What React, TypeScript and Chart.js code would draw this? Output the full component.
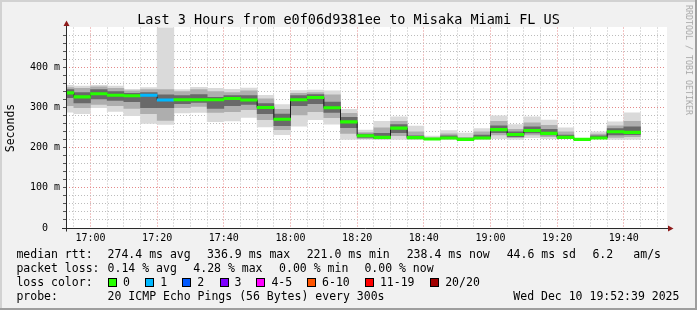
import React, { useEffect, useRef } from 'react';
import { Chart, registerables } from 'chart.js';

Chart.register(...registerables);

// ---------------- data ----------------
const TITLE = 'Last 3 Hours from e0f06d9381ee to Misaka Miami FL US';
const END_TIME = '19:52:39';
const SPAN_MIN = 180;
const STEP_MIN = 5;
const Y_MAX = 500;

// 5-minute bins (start time of each bin)
const binStarts = [
  '16:50', '16:55', '17:00', '17:05', '17:10', '17:15', '17:20', '17:25', '17:30', '17:35',
  '17:40', '17:45', '17:50', '17:55', '18:00', '18:05', '18:10', '18:15', '18:20', '18:25',
  '18:30', '18:35', '18:40', '18:45', '18:50', '18:55', '19:00', '19:05', '19:10', '19:15',
  '19:20', '19:25', '19:30', '19:35', '19:40',
];

// median rtt (ms)
const median = [
  336.9, 327, 334.6, 331, 329.6, 331, 319, 320, 320, 320,
  323, 319, 300.5, 271, 320, 325.5, 300, 264.6, 230, 226,
  249, 225.4, 222, 224.6, 221, 224.6, 245.4, 233, 243, 236,
  226, 221, 224.6, 240, 238.4,
];

// lost pings out of 20 per bin
const lossCount = [
  0, 0, 0, 0, 0, 1, 1, 0, 0, 0,
  0, 0, 0, 0, 0, 0, 0, 0, 0, 0,
  0, 0, 0, 0, 0, 0, 0, 0, 0, 0,
  0, 0, 0, 0, 0,
];

// smoke: outer (all pings), middle and inner bands (ms)
const outerLo = [289, 285, 300, 291, 280, 261, 258, 287, 288, 265, 267, 276, 252, 233, 254, 270, 259, 221, 221, 221, 221, 221, 220, 221, 219, 221, 223, 221, 225, 223, 223, 220, 223, 221, 221];
const outerHi = [356, 354, 356, 354, 346, 350, 520, 345, 351, 348, 346, 349, 331, 308, 343, 344, 342, 296, 244, 266, 277, 254, 229, 243, 237, 248, 280, 258, 277, 269, 250, 222, 240, 265, 287];
const midLo = [305, 300, 308, 305, 298, 285, 268, 300, 303, 288, 290, 295, 270, 245, 282, 290, 275, 236, 223, 222, 230, 222, 221, 222, 220, 222, 232, 225, 232, 228, 224, 220, 224, 226, 228];
const midHi = [350, 348, 352, 348, 342, 345, 345, 340, 345, 340, 338, 342, 322, 296, 336, 338, 332, 286, 238, 250, 266, 240, 225, 235, 226, 240, 266, 246, 262, 256, 240, 222, 234, 255, 266];
const darkLo = [325, 312, 322, 318, 315, 300, 300, 310, 313, 298, 305, 308, 285, 255, 305, 310, 288, 250, 226, 223, 238, 223, 221, 223, 220, 223, 238, 228, 237, 232, 225, 220, 225, 232, 233];
const darkHi = [345, 338, 345, 340, 336, 338, 332, 330, 333, 326, 330, 330, 310, 284, 330, 333, 314, 276, 234, 236, 258, 230, 223, 230, 222, 232, 255, 240, 252, 246, 232, 222, 230, 248, 252];

const yTickValues = [0, 100, 200, 300, 400];
const xTickLabels = ['17:00', '17:20', '17:40', '18:00', '18:20', '18:40', '19:00', '19:20', '19:40'];

const lossLabels = ['0', '1', '2', '3', '4-5', '6-10', '11-19', '20/20'];
const lossColors = ['#26ff00', '#00b8ff', '#0059ff', '#7e00ff', '#ff00ff', '#ff5500', '#ff0000', '#a10000'];

const rttStats = ['274.4 ms avg', '336.9 ms max', '221.0 ms min', '238.4 ms now', '44.6 ms sd', '6.2', 'am/s'];
const lossStats = ['0.14 % avg', '4.28 % max', '0.00 % min', '0.00 % now'];
const PROBE = '20 ICMP Echo Pings (56 Bytes) every 300s';
const DATE = 'Wed Dec 10 19:52:39 2025';

// ---------------- helpers ----------------
const MONO = "'DejaVu Sans Mono', monospace";
const toMin = (s: string) => {
  const p = s.split(':').map(Number);
  return p[0] * 60 + p[1] + (p[2] || 0) / 60;
};
const lossIndex = (c: number) =>
  c <= 3 ? c : c <= 5 ? 4 : c <= 10 ? 5 : c <= 19 ? 6 : 7;

const MEDIAN_HALF = 3; // thickness of the coloured median line (ms)
const GRID_MINOR = '#bcbcbc';
const GRID_MAJOR = '#e48888';

function Txt(props: { x: number; y: number; size?: number; children: React.ReactNode; color?: string }) {
  const size = props.size ?? 11.5;
  return (
    <span
      style={{
        position: 'absolute',
        left: props.x,
        top: props.y - 7,
        fontSize: size,
        lineHeight: '14px',
        whiteSpace: 'pre',
        color: props.color ?? '#000',
        fontFamily: MONO,
      }}
    >
      {props.children}
    </span>
  );
}

export default function App() {
  const ref = useRef<HTMLCanvasElement>(null);

  useEffect(() => {
    const canvas = ref.current;
    if (!canvas) return;
    const endMin = toMin(END_TIME);
    const xMin = endMin - SPAN_MIN;
    const centers = binStarts.map((s) => toMin(s) + STEP_MIN / 2);
    const xGrid: number[] = [];
    for (let v = Math.ceil(xMin / STEP_MIN) * STEP_MIN; v <= endMin; v += STEP_MIN) xGrid.push(v);
    const yGrid: number[] = [];
    for (let v = 0; v <= Y_MAX; v += 20) yGrid.push(v);
    const majorX = xTickLabels.map(toMin);

    const band = (lo: number[], hi: number[], color: string, order: number) => ({
      type: 'bar' as const,
      data: centers.map((x, i) => ({ x, y: [lo[i], hi[i]] })),
      backgroundColor: color,
      grouped: false,
      order,
      barPercentage: 1,
      categoryPercentage: 1,
      borderWidth: 0,
      clip: 0,
    });

    const bgPlugin = {
      id: 'rrdCanvas',
      beforeDraw(chart: any) {
        const { ctx, chartArea: a } = chart;
        ctx.save();
        ctx.fillStyle = '#ffffff';
        ctx.fillRect(a.left, Math.floor(a.top), a.right - a.left + 1, a.bottom - Math.floor(a.top));
        ctx.restore();
      },
    };

    const axisPlugin = {
      id: 'rrdAxes',
      afterDatasetsDraw(chart: any) {
        const { ctx, chartArea: a, scales } = chart;
        const x0 = Math.round(a.left) + 0.5;
        const y0 = Math.round(scales.y.getPixelForValue(0) - 0.5) + 0.5;
        ctx.save();
        ctx.strokeStyle = '#2a2a2a';
        ctx.lineWidth = 1;
        ctx.beginPath();
        ctx.moveTo(x0, y0 + 3);
        ctx.lineTo(x0, a.top - 3);
        ctx.moveTo(a.left - 4, y0);
        ctx.lineTo(a.right + 3, y0);
        ctx.stroke();
        ctx.fillStyle = '#8e1b1b';
        ctx.beginPath();
        ctx.moveTo(x0, a.top - 7);
        ctx.lineTo(x0 - 3, a.top - 1.5);
        ctx.lineTo(x0 + 3, a.top - 1.5);
        ctx.closePath();
        ctx.fill();
        ctx.beginPath();
        ctx.moveTo(a.right + 7.5, y0);
        ctx.lineTo(a.right + 2, y0 - 3);
        ctx.lineTo(a.right + 2, y0 + 3);
        ctx.closePath();
        ctx.fill();
        ctx.restore();
      },
    };

    const chart = new Chart(canvas, {
      type: 'bar',
      data: {
        datasets: [
          band(outerLo, outerHi, '#dadada', 10),
          band(midLo, midHi, '#aeaeae', 9),
          band(darkLo, darkHi, '#696969', 8),
          {
            type: 'line' as const,
            data: centers.map((x, i) => ({ x, y: median[i] })),
            borderColor: '#1e1e1e',
            borderWidth: 1,
            pointRadius: 0,
            stepped: 'middle',
            fill: false,
            order: 2,
            clip: 0,
          } as any,
          {
            type: 'bar' as const,
            data: centers.map((x, i) => ({ x, y: [median[i] - MEDIAN_HALF, median[i] + MEDIAN_HALF] })),
            backgroundColor: lossCount.map((c) => lossColors[lossIndex(c)]),
            grouped: false,
            order: 1,
            barPercentage: 1,
            categoryPercentage: 1,
            borderWidth: 0,
            clip: 0,
          } as any,
        ],
      },
      options: {
        animation: false,
        responsive: false,
        devicePixelRatio: 1,
        events: [],
        layout: { padding: { left: 0, right: 31, top: 27.5, bottom: 62 } },
        plugins: {
          legend: { display: false },
          tooltip: { enabled: false },
          title: { display: false },
        },
        scales: {
          x: {
            type: 'linear',
            min: xMin,
            max: endMin,
            offset: false,
            afterBuildTicks: (s: any) => {
              s.ticks = xGrid.map((v) => ({ value: v }));
            },
            afterFit: (s: any) => {
              s.height = 20;
              s.paddingLeft = 0;
              s.paddingRight = 0;
            },
            ticks: {
              autoSkip: false,
              maxRotation: 0,
              minRotation: 0,
              padding: 1,
              color: '#000',
              font: { family: MONO, size: 10 },
              callback: (v: any) => {
                const k = majorX.indexOf(Number(v));
                return k >= 0 ? xTickLabels[k] : '';
              },
            },
            grid: {
              offset: false,
              drawTicks: true,
              tickLength: 3,
              tickColor: 'rgba(0,0,0,0)',
              lineWidth: 1,
              color: (c: any) => (majorX.includes(c.tick?.value) ? GRID_MAJOR : GRID_MINOR),
              borderDash: [1, 2],
            } as any,
            border: { display: false, dash: [1, 2] },
          } as any,
          y: {
            type: 'linear',
            min: 0,
            max: Y_MAX,
            afterBuildTicks: (s: any) => {
              s.ticks = yGrid.map((v) => ({ value: v }));
            },
            afterFit: (s: any) => {
              s.width = 66;
              s.paddingTop = 0;
              s.paddingBottom = 0;
            },
            ticks: {
              autoSkip: false,
              padding: 3,
              color: '#000',
              font: { family: MONO, size: 10 },
              callback: (v: any) => {
                const n = Number(v);
                if (!yTickValues.includes(n)) return '';
                return n === 0 ? '0  ' : `${n} m`;
              },
            },
            grid: {
              drawTicks: true,
              tickLength: 3,
              tickColor: (c: any) => (c.tick?.value === Y_MAX ? 'rgba(0,0,0,0)' : '#555555'),
              lineWidth: 1,
              color: (c: any) => {
                const v = c.tick?.value;
                if (v === 0 || v === Y_MAX) return 'rgba(0,0,0,0)';
                return v % 100 === 0 ? GRID_MAJOR : GRID_MINOR;
              },
              borderDash: [1, 2],
            } as any,
            border: { display: false, dash: [1, 2] },
          } as any,
        },
      } as any,
      plugins: [bgPlugin, axisPlugin],
    });
    return () => chart.destroy();
  }, []);

  const rttX = [107.6, 207.1, 306.7, 406.7, 506.7, 592.4, 633.3];
  const lossX = [107.6, 193.3, 279.1, 364.4];
  const boxX = [108, 145.3, 182.2, 219.6, 256.4, 307.1, 364.9, 430.2];

  return (
    <div
      style={{
        position: 'absolute',
        left: 0,
        top: 0,
        width: 697,
        height: 310,
        background: '#f1f1f1',
        overflow: 'hidden',
        fontFamily: MONO,
      }}
    >
      <canvas ref={ref} width={697} height={310} style={{ position: 'absolute', left: 0, top: 0 }} />
      {/* frame */}
      <div style={{ position: 'absolute', left: 0, top: 0, width: 697, height: 2, background: '#d2d2d2' }} />
      <div style={{ position: 'absolute', left: 0, top: 0, width: 2, height: 310, background: '#d2d2d2' }} />
      <div style={{ position: 'absolute', left: 695, top: 0, width: 2, height: 310, background: '#9e9e9e' }} />
      <div style={{ position: 'absolute', left: 0, top: 308, width: 697, height: 2, background: '#9e9e9e' }} />
      {/* title */}
      <div
        style={{
          position: 'absolute',
          left: 0,
          top: 11,
          width: 697,
          textAlign: 'center',
          fontSize: 13.5,
          lineHeight: '16px',
          whiteSpace: 'pre',
          color: '#000',
        }}
      >
        {TITLE}
      </div>
      {/* y axis title */}
      <div
        style={{
          position: 'absolute',
          left: 10,
          top: 127.5,
          transform: 'translate(-50%, -50%) rotate(-90deg)',
          fontSize: 11.5,
          lineHeight: '14px',
          whiteSpace: 'pre',
          color: '#000',
        }}
      >
        Seconds
      </div>
      {/* watermark */}
      <div
        style={{
          position: 'absolute',
          left: 689,
          top: 60,
          transform: 'translate(-50%, -50%) rotate(90deg)',
          fontSize: 8.3,
          lineHeight: '10px',
          whiteSpace: 'pre',
          color: '#a8a8a8',
        }}
      >
        RRDTOOL / TOBI OETIKER
      </div>
      {/* legend rows */}
      <Txt x={16.4} y={254.3}>median rtt:</Txt>
      {rttStats.map((s, i) => (
        <Txt key={'r' + i} x={rttX[i]} y={254.3}>{s}</Txt>
      ))}
      <Txt x={16.4} y={268}>packet loss:</Txt>
      {lossStats.map((s, i) => (
        <Txt key={'l' + i} x={lossX[i]} y={268}>{s}</Txt>
      ))}
      <Txt x={16.4} y={282}>loss color:</Txt>
      {lossLabels.map((s, i) => (
        <React.Fragment key={'c' + i}>
          <div
            style={{
              position: 'absolute',
              left: boxX[i],
              top: 278,
              width: 9,
              height: 9,
              boxSizing: 'border-box',
              border: '1px solid #000',
              background: lossColors[i],
            }}
          />
          <Txt x={boxX[i] + 15} y={282}>{s}</Txt>
        </React.Fragment>
      ))}
      <Txt x={16.4} y={296}>probe:</Txt>
      <Txt x={107.6} y={296}>{PROBE}</Txt>
      <Txt x={513.3} y={296}>{DATE}</Txt>
    </div>
  );
}
